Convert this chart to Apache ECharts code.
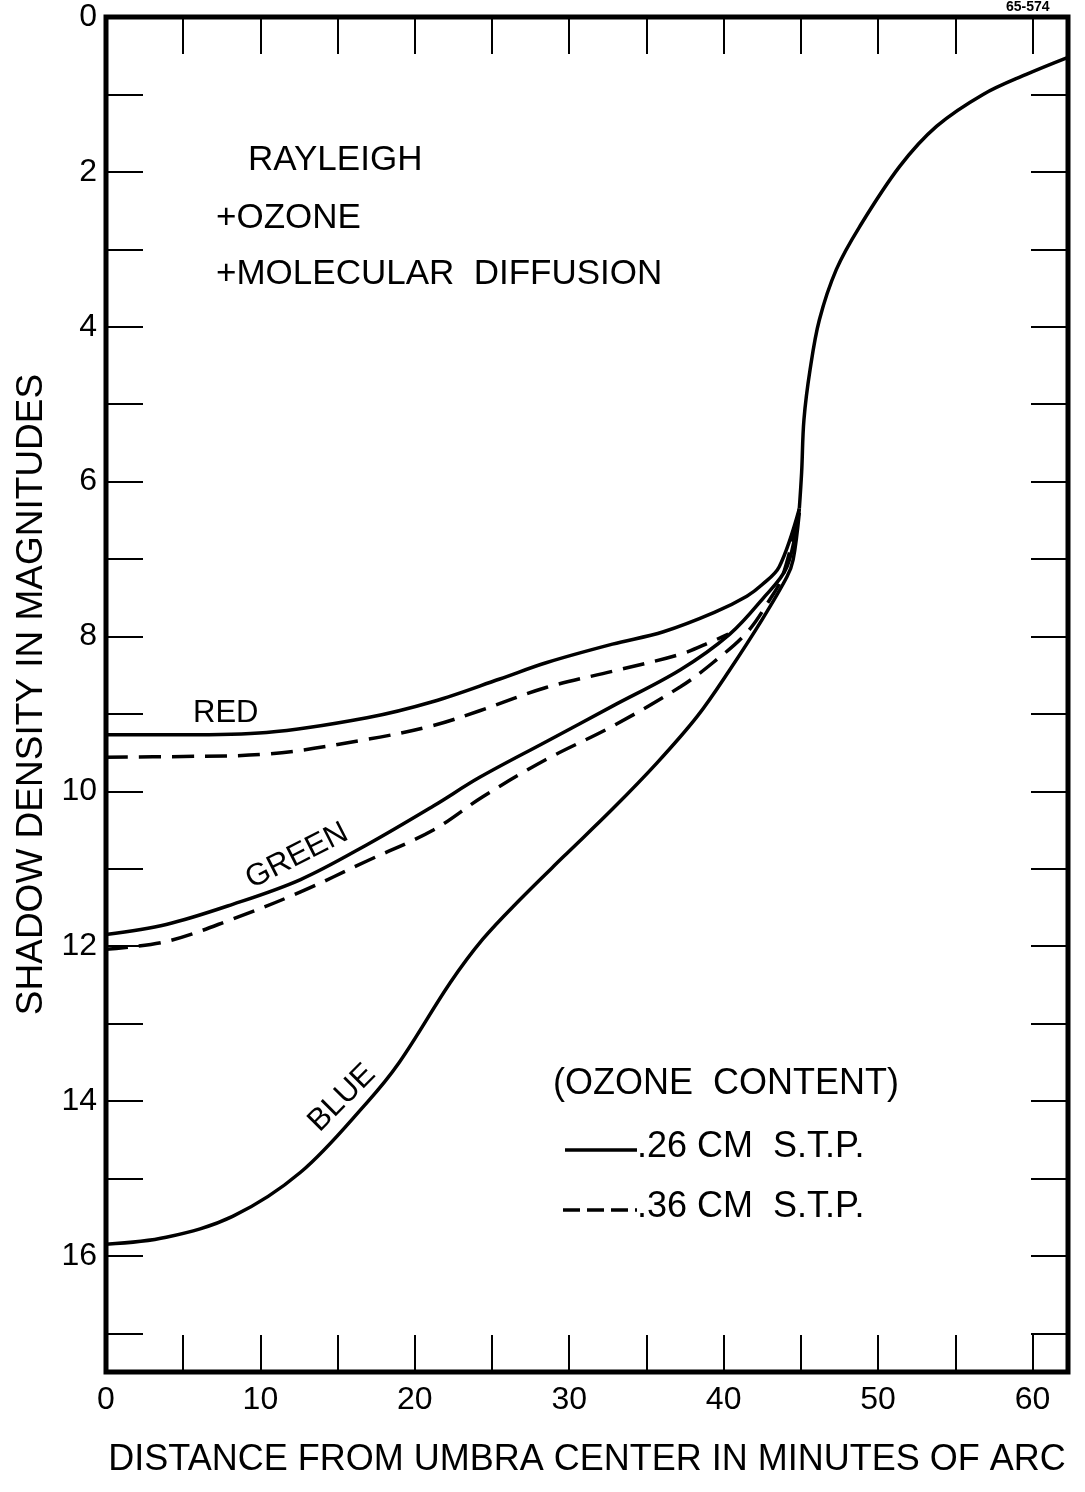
<!DOCTYPE html>
<html>
<head>
<meta charset="utf-8">
<script src="https://cdn.jsdelivr.net/npm/echarts@6/dist/echarts.min.js"></script>
<style>html,body{margin:0;padding:0;background:#fff}#c{width:1085px;height:1492px}</style>
</head>
<body>
<div id="c"></div>
<script>
// ---- data (x: minutes of arc, y: shadow density in magnitudes) ----
var redSolid = [[0,9.27],[5,9.27],[10.4,9.24],[16.9,9.05],[21.2,8.84],[25.5,8.55],[28.5,8.34],[32.8,8.10],[36.1,7.94],[39.4,7.69],[41.5,7.48],[42.5,7.33],[43.6,7.10],[44.9,6.35]];
var redDashed = [[0,9.56],[5,9.55],[10.4,9.52],[16.9,9.33],[21.2,9.15],[24.2,8.96],[28.5,8.66],[32.8,8.45],[37.2,8.23],[39.3,8.06],[40.3,7.97]];
var greenSolid = [[0,11.85],[3.9,11.72],[8.2,11.46],[12.6,11.14],[16.9,10.69],[21.2,10.19],[24.2,9.82],[28.5,9.36],[32.8,8.90],[37.2,8.43],[40.4,7.97],[42.5,7.52],[44.1,7.10],[44.9,6.35]];
var greenDashed = [[0,12.04],[3.9,11.94],[8.2,11.65],[12.6,11.30],[16.9,10.90],[21.2,10.50],[24.4,10.07],[28.5,9.59],[32.8,9.16],[37.2,8.65],[39.3,8.34],[41.5,7.95],[43.0,7.52],[43.8,7.23],[44.9,6.4]];
var blueSolid = [[0,15.85],[3.9,15.76],[8.2,15.49],[12.6,14.92],[16.9,14.02],[19.0,13.50],[22.3,12.47],[24.4,11.91],[26.8,11.40],[29.6,10.85],[32.8,10.23],[35.7,9.63],[38.3,9.03],[40.4,8.43],[42.5,7.78],[44.1,7.23],[44.5,7.01],[44.9,6.4]];
var commonBranch = [[44.9,6.35],[45.05,5.88],[45.2,5.2],[45.6,4.55],[46.2,3.91],[47.3,3.26],[48.8,2.71],[51.4,1.93],[53.8,1.41],[56.8,1.0],[59.6,0.74],[62.3,0.52]];
var xTickLabels = [0,10,20,30,40,50,60];
var yTickLabels = [0,2,4,6,8,10,12,14,16];
var xTitle = 'DISTANCE FROM UMBRA CENTER IN MINUTES OF ARC';
var yTitle = 'SHADOW DENSITY IN MAGNITUDES';

var FONT = 'Liberation Sans';
var chart = echarts.init(document.getElementById('c'), null, {renderer:'canvas'});

function lineSeries(name, data, dashed){
  return {name:name, type:'line', data:data, showSymbol:false, smooth:0.35, z:3,
    lineStyle:{color:'#000', width:3.5, type: dashed ? [22,11] : 'solid', cap:'butt'}};
}
var tickStyle = {show:true, inside:true, length:37, lineStyle:{color:'#000', width:2}};
var hiddenLine = {show:false, onZero:false};
var option = {
  backgroundColor:'#fff',
  animation:false,
  grid:{left:106, right:17, top:17, bottom:120, show:true, borderColor:'#000', borderWidth:5, backgroundColor:'transparent'},
  xAxis:[
    {type:'value', min:0, max:62.3, interval:5, position:'bottom',
     axisLine:hiddenLine, axisTick:tickStyle, splitLine:{show:false},
     axisLabel:{fontSize:32, fontFamily:FONT, color:'#000', margin:12, showMaxLabel:false,
       formatter:function(v){return xTickLabels.indexOf(v)>=0 ? String(v) : '';}},
     name:xTitle, nameLocation:'middle', nameGap:70,
     nameTextStyle:{fontSize:36, fontFamily:FONT, color:'#000'}},
    {type:'value', min:0, max:62.3, interval:5, position:'top',
     axisLine:hiddenLine, axisTick:tickStyle, splitLine:{show:false}, axisLabel:{show:false}}
  ],
  yAxis:[
    {type:'value', inverse:true, min:0, max:17.5, interval:1, position:'left',
     axisLine:hiddenLine, axisTick:tickStyle, splitLine:{show:false},
     axisLabel:{fontSize:32, fontFamily:FONT, color:'#000', margin:9, showMaxLabel:false,
       formatter:function(v){return yTickLabels.indexOf(v)>=0 ? String(v) : '';}},
     name:yTitle, nameLocation:'middle', nameGap:52, nameRotate:90,
     nameTextStyle:{fontSize:37, fontFamily:FONT, color:'#000'}},
    {type:'value', inverse:true, min:0, max:17.5, interval:1, position:'right',
     axisLine:hiddenLine, axisTick:tickStyle, splitLine:{show:false}, axisLabel:{show:false}}
  ],
  series:[
    lineSeries('Red .26', redSolid, false),
    lineSeries('Red .36', redDashed, true),
    lineSeries('Green .26', greenSolid, false),
    lineSeries('Green .36', greenDashed, true),
    lineSeries('Blue .26', blueSolid, false),
    lineSeries('Common', commonBranch, false)
  ],
  graphic:[
    {type:'text', left:1006, top:0, style:{text:'65-574', font:'bold 14px '+FONT, fill:'#000'}},
    {type:'text', left:248, top:143, style:{text:'RAYLEIGH', font:'35px '+FONT, fill:'#000'}},
    {type:'text', left:216, top:201, style:{text:'+OZONE', font:'35px '+FONT, fill:'#000'}},
    {type:'text', left:216, top:257, style:{text:'+MOLECULAR  DIFFUSION', font:'35px '+FONT, fill:'#000'}},
    {type:'text', left:193, top:698, style:{text:'RED', font:'31px '+FONT, fill:'#000'}},
    {type:'text', x:297, y:856, rotation:27*Math.PI/180, style:{text:'GREEN', font:'31px '+FONT, fill:'#000', align:'center', verticalAlign:'middle'}},
    {type:'text', x:342, y:1098, rotation:45*Math.PI/180, style:{text:'BLUE', font:'31px '+FONT, fill:'#000', align:'center', verticalAlign:'middle'}},
    {type:'text', left:553, top:1066, style:{text:'(OZONE  CONTENT)', font:'36px '+FONT, fill:'#000'}},
    {type:'line', shape:{x1:565, y1:1150, x2:637, y2:1150}, style:{stroke:'#000', lineWidth:3.5}},
    {type:'text', left:637, top:1129, style:{text:'.26 CM  S.T.P.', font:'36px '+FONT, fill:'#000'}},
    {type:'line', shape:{x1:563, y1:1210, x2:637, y2:1210}, style:{stroke:'#000', lineWidth:3.5, lineDash:[17,7]}},
    {type:'text', left:637, top:1189, style:{text:'.36 CM  S.T.P.', font:'36px '+FONT, fill:'#000'}}
  ]
};
chart.setOption(option);
</script>
</body>
</html>
